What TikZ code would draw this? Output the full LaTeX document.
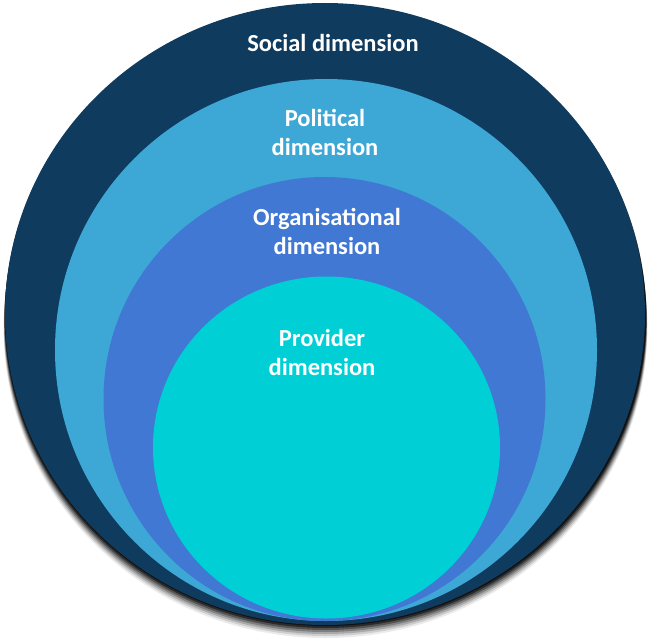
\documentclass[tikz,border=0pt]{standalone}
\usepackage{fontspec}
\setmainfont{Carlito}
\begin{document}
\begin{tikzpicture}[x=1pt,y=-1pt,
  lbl/.style={text=white,font=\bfseries\fontsize{24.5}{29}\selectfont,align=center,inner sep=0pt}]
\useasboundingbox (0,0) rectangle (650,639);
\definecolor{cSocial}{HTML}{0F3B5F}
\definecolor{cPolit}{HTML}{3DA8D6}
\definecolor{cOrg}{HTML}{4178D4}
\definecolor{cProv}{HTML}{00D0D6}
% shadow
\foreach \d/\o in {14/0.08,12/0.12,10/0.18,8/0.25,6/0.35,4/0.5,2/0.6}{
  \fill[black,opacity=\o] (325.5,{314+\d}) ellipse [x radius={320.5+0.1*\d}, y radius=310];
}
\fill[cSocial] (325,314) ellipse [x radius=320, y radius=311];
\fill[cPolit] (326,350) ellipse [x radius=271, y radius=271];
\fill[cOrg] (324.5,399) ellipse [x radius=221, y radius=222];
\fill[cProv] (326.5,447.5) ellipse [x radius=173.5, y radius=171];
\node[lbl] (social) at (333,43) {Social dimension};
\node[lbl] (polit) at (325,132.5) {Political\\dimension};
\node[lbl] (org) at (327,231) {Organisational\\dimension};
\node[lbl] (prov) at (322,352.5) {Provider\\dimension};
\end{tikzpicture}
\end{document}
